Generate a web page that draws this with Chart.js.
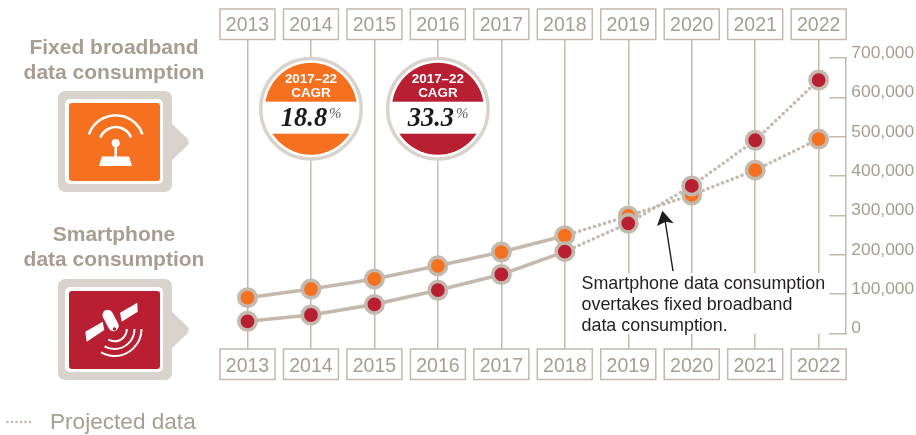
<!DOCTYPE html>
<html><head><meta charset="utf-8">
<script src="https://cdn.jsdelivr.net/npm/chart.js@4"></script>
<style>html,body{margin:0;padding:0;background:#fff}#w{width:916px;height:435px;position:relative}</style>
</head><body><div id="w"><canvas id="c" width="916" height="435"></canvas></div>
<script>
const years = [2013,2014,2015,2016,2017,2018,2019,2020,2021,2022];
const fixedBroadband = [91000,113000,138500,172000,207000,248500,298500,352000,415000,494000];
const smartphone = [31000,47000,74000,110000,150000,208000,280000,375000,491000,644000];
const yTicks = [0,100000,200000,300000,400000,500000,600000,700000];
const lastActualIndex = 5;
const cagrFixed = '18.8', cagrSmart = '33.3';

const ORANGE='#f57120', RED='#b81f33', LINE='#c4b9af', TXT='#a89d92', PALE='#d9d3cd';
const FONT='"Liberation Sans", Arial, sans-serif';
const toPts = arr => arr.map((v,i)=>({x:years[i],y:v}));
const seg = {borderDash: c => c.p0DataIndex>=lastActualIndex ? [0,5.2] : undefined};

function rr(g,x,y,w,h,r){g.beginPath();g.roundRect(x,y,w,h,r);}
function label(g,t,x,y,font,color,align){g.font=font;g.fillStyle=color;g.textAlign=align||'left';g.textBaseline='alphabetic';g.fillText(t,x,y);}

function iconFrame(g,top,fill){
  g.fillStyle=PALE;
  rr(g,58,top,114,101,7);g.fill();
  g.beginPath();g.moveTo(170,top+31);g.lineTo(187,top+47);g.quadraticCurveTo(190,top+51,187,top+55);g.lineTo(170,top+71);g.closePath();g.fill();
  g.fillStyle='#fff';rr(g,65,top+8,98,85,5);g.fill();
  g.fillStyle=fill;rr(g,69,top+12,91,78,3);g.fill();
}
function routerIcon(g){
  const cx=115.7,cy=143.6;
  g.strokeStyle='#fff';g.lineWidth=2.6;g.lineCap='butt';
  g.beginPath();g.arc(cx,cy,28.3,Math.PI+0.33,2*Math.PI-0.33);g.stroke();
  g.beginPath();g.arc(cx,cy,16.5,Math.PI+0.38,2*Math.PI-0.38);g.stroke();
  g.fillStyle='#fff';
  g.beginPath();g.arc(cx,143,4,0,7);g.fill();
  g.fillRect(cx-1.3,144,2.6,13);
  g.beginPath();g.moveTo(102,156.5);g.lineTo(129,156.5);g.lineTo(132,166);g.lineTo(99,166);g.closePath();g.fill();
}
function satelliteIcon(g){
  g.fillStyle='#fff';
  g.beginPath();g.moveTo(85.3,331.7);g.lineTo(102.7,321.7);g.lineTo(104.3,330);g.lineTo(86.7,341.7);g.closePath();g.fill();
  g.beginPath();g.moveTo(120,312.7);g.lineTo(137.3,302.7);g.lineTo(137.7,311.7);g.lineTo(121.7,321.7);g.closePath();g.fill();
  g.strokeStyle='#fff';g.lineCap='round';g.lineWidth=10.5;
  g.beginPath();g.moveTo(107.7,315);g.lineTo(113.5,326);g.stroke();
  g.fillStyle=RED;g.beginPath();g.arc(114.5,329,1.8,0,7);g.fill();
  g.lineWidth=2;g.lineCap='butt';
  [12.3,20,27].forEach(r=>{g.beginPath();g.arc(114.5,329,r,0,2.09);g.stroke();});
}
function badge(g,x,fill,val){
  const cy=108.7;
  g.fillStyle='#fff';g.beginPath();g.arc(x,cy,51.5,0,7);g.fill();
  g.strokeStyle=PALE;g.lineWidth=3.5;g.beginPath();g.arc(x,cy,50.2,0,7);g.stroke();
  g.save();g.beginPath();g.arc(x,cy,46,0,7);g.clip();
  g.fillStyle=fill;g.fillRect(x-50,cy-50,100,43);g.fillRect(x-50,133.7,100,30);
  g.restore();
  label(g,'2017–22',x,83.3,'bold 13.4px '+FONT,'#fff','center');
  label(g,'CAGR',x,97,'bold 13.4px '+FONT,'#fff','center');
  label(g,val,x-7,125.7,'italic bold 26.5px "Liberation Serif", serif','#1c1a1b','center');
  label(g,'%',x+18,118.3,'italic 15px "Liberation Serif", serif','#5f5a55','left');
}

const overlay = {
  id:'overlay',
  beforeDatasetsDraw(ch){
    const g=ch.ctx,{x}=ch.scales;
    g.save();
    g.strokeStyle=LINE;g.lineWidth=1.5;
    years.forEach(v=>{
      const px=x.getPixelForValue(v);
      g.strokeRect(px-27.5,9,55,30.5);
      g.strokeRect(px-27.5,349,55,30.5);
    });
    g.fillStyle='#fff';g.fillRect(578,273,250,61);
    g.restore();
  },
  afterDatasetsDraw(ch){
    const g=ch.ctx,{x}=ch.scales;
    g.save();
    label(g,'Fixed broadband',114,54,'bold 21px '+FONT,TXT,'center');
    label(g,'data consumption',114,79,'bold 21px '+FONT,TXT,'center');
    label(g,'Smartphone',114,241,'bold 21px '+FONT,TXT,'center');
    label(g,'data consumption',114,265.7,'bold 21px '+FONT,TXT,'center');
    iconFrame(g,91,ORANGE);routerIcon(g);
    iconFrame(g,279,RED);satelliteIcon(g);
    badge(g,x.getPixelForValue(years[1]),ORANGE,cagrFixed);
    badge(g,x.getPixelForValue(years[3]),RED,cagrSmart);
    ['Smartphone data consumption','overtakes fixed broadband','data consumption.'].forEach((t,i)=>
      label(g,t,581.5,288.7+i*21,'17.9px '+FONT,'#231f20'));
    g.strokeStyle='#1c1a1b';g.lineWidth=1.4;g.beginPath();g.moveTo(673,271);g.lineTo(665,220);g.stroke();
    g.fillStyle='#1c1a1b';g.beginPath();g.moveTo(662.3,210.7);g.lineTo(673.7,223.3);g.lineTo(665.7,221.7);g.lineTo(657,226);g.closePath();g.fill();
    g.strokeStyle=LINE;g.lineWidth=2.6;g.lineCap='round';g.setLineDash([0,4.5]);g.beginPath();g.moveTo(7.5,422);g.lineTo(31,422);g.stroke();g.setLineDash([]);
    label(g,'Projected data',50,428.5,'22.6px '+FONT,TXT);
    g.restore();
  }
};

Chart.defaults.animation=false;
new Chart(document.getElementById('c'),{
  type:'line',
  data:{datasets:[
    {label:'Smartphone data consumption',data:toPts(smartphone),xAxisID:'x',yAxisID:'y',borderColor:LINE,borderWidth:3.6,borderCapStyle:'round',segment:seg,pointRadius:8.7,pointBorderWidth:3.6,pointBackgroundColor:RED,pointBorderColor:LINE,tension:0,clip:false},
    {label:'Fixed broadband data consumption',data:toPts(fixedBroadband),xAxisID:'x',yAxisID:'y',borderColor:LINE,borderWidth:3.6,borderCapStyle:'round',segment:seg,pointRadius:8.7,pointBorderWidth:3.6,pointBackgroundColor:ORANGE,pointBorderColor:LINE,tension:0,clip:false}
  ]},
  options:{
    responsive:false,animation:false,
    layout:{padding:{left:247.5,right:0,top:0,bottom:0}},
    plugins:{legend:{display:false},tooltip:{enabled:false}},
    scales:{
      x:{type:'linear',position:'bottom',min:years[0],max:2022.42,
        afterFit(s){s.height=101.5;},
        afterBuildTicks(s){s.ticks=years.map(v=>({value:v}));},
        border:{display:false},
        grid:{color:LINE,lineWidth:1.5,drawOnChartArea:true,drawTicks:true,tickLength:15.5,tickColor:LINE},
        ticks:{color:TXT,font:{family:FONT,size:19.5},padding:6,maxRotation:0,autoSkip:false,callback:v=>String(v)}},
      xTop:{type:'linear',position:'top',min:years[0],max:2022.42,
        afterFit(s){s.height=58;},
        afterBuildTicks(s){s.ticks=years.map(v=>({value:v}));},
        border:{display:false},
        grid:{color:LINE,lineWidth:1.5,drawOnChartArea:false,drawTicks:true,tickLength:18,tickColor:LINE},
        ticks:{color:TXT,font:{family:FONT,size:19.5},padding:2.5,maxRotation:0,autoSkip:false,callback:v=>String(v)}},
      y:{type:'linear',position:'right',min:0,max:700000,
        afterFit(s){s.width=916-845.3;},
        afterBuildTicks(s){s.ticks=yTicks.map(v=>({value:v}));},
        border:{display:true,color:LINE,width:1.5},
        grid:{drawOnChartArea:false,drawTicks:true,tickLength:-16,tickColor:LINE,lineWidth:1.5},
        ticks:{color:TXT,font:{family:FONT,size:17.4},padding:22,labelOffset:-5,crossAlign:'near',
          callback:v=>v.toLocaleString('en-US')}}
    }
  },
  plugins:[overlay]
});
</script></body></html>
